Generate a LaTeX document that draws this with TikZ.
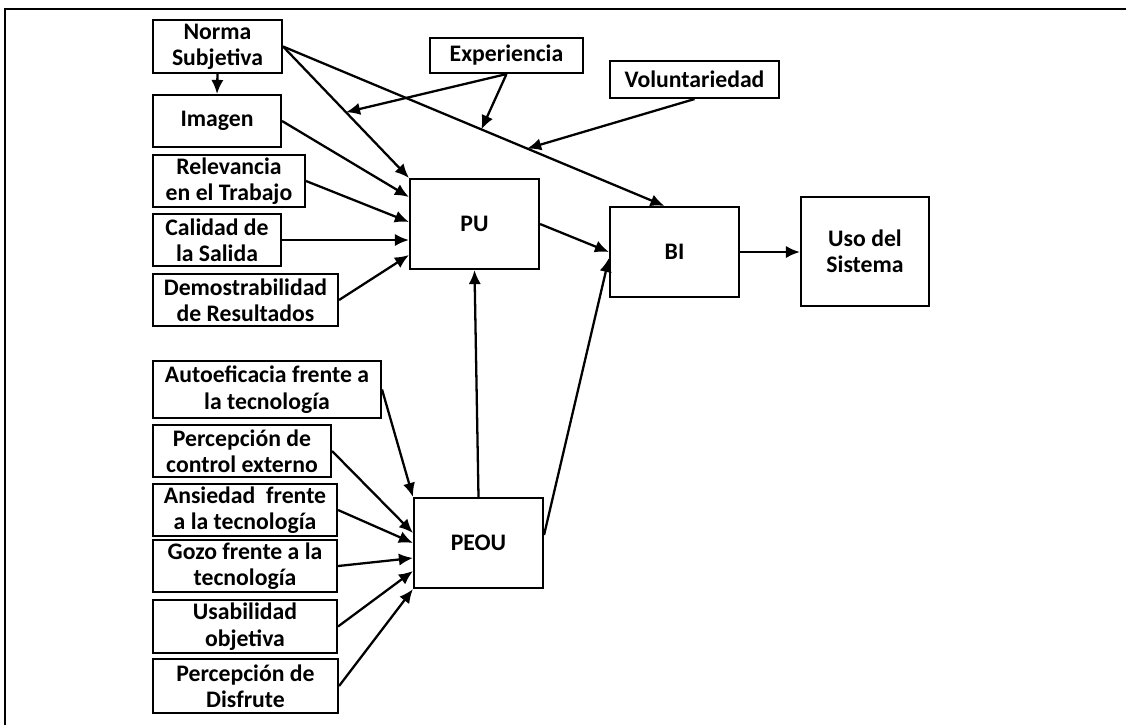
\documentclass[tikz,border=0pt]{standalone}
\usepackage{fontspec}
\setmainfont{Carlito}
\usepackage{tikz}
\usetikzlibrary{arrows.meta}

\begin{document}
\begin{tikzpicture}[x=0.02cm, y=-0.02cm]
    % Define the style for the nodes
    \tikzstyle{block} = [rectangle, draw, line width=1.2pt, align=center, inner sep=1pt, font=\fontsize{13.5}{15}\selectfont\bfseries]
    \tikzstyle{line} = [draw, -{Latex[length=8pt,width=7pt]}, line width=1.3pt]

    \useasboundingbox (0,0) rectangle (1126,725);
    \draw [line width=1.2pt] (5,725) -- (5,9) -- (1126,9);

    % Place the nodes
    \node [block, minimum width=2.58cm, minimum height=1.06cm] (norma) at (217.5,46.5) {Norma\\Subjetiva};
    \node [block, minimum width=2.56cm, minimum height=1.04cm] (imagen) at (217,121) {Imagen};
    \node [block, minimum width=3.04cm, minimum height=1.04cm] (relevancia) at (229,181) {Relevancia\\en el Trabajo};
    \node [block, minimum width=2.56cm, minimum height=1.04cm] (calidad) at (217,240) {Calidad de\\la Salida};
    \node [block, minimum width=3.70cm, minimum height=1.04cm] (demos) at (245.5,300) {Demostrabilidad\\de Resultados};
    \node [block, minimum width=3.06cm, minimum height=0.70cm] (exper) at (506.5,55.5) {Experiencia};
    \node [block, minimum width=3.38cm, minimum height=0.74cm] (volunt) at (694.5,79.5) {Voluntariedad};
    \node [block, minimum width=2.58cm, minimum height=1.80cm] (pu) at (474.5,224) {PU};
    \node [block, minimum width=2.58cm, minimum height=1.80cm] (bi) at (674.5,252) {BI};
    \node [block, minimum width=2.56cm, minimum height=2.18cm] (uso) at (865,251.5) {Uso del\\Sistema};
    \node [block, minimum width=4.56cm, minimum height=1.14cm] (autoef) at (267,389.5) {Autoeficacia frente a\\la tecnología};
    \node [block, minimum width=3.56cm, minimum height=1.04cm] (percont) at (242,451) {Percepción de\\control externo};
    \node [block, minimum width=3.68cm, minimum height=1.04cm] (ansiedad) at (245,510) {Ansiedad\ \ frente\\a la tecnología};
    \node [block, minimum width=3.68cm, minimum height=1.04cm] (gozo) at (245,566) {Gozo frente a la\\tecnología};
    \node [block, minimum width=3.68cm, minimum height=1.06cm] (usab) at (245,626.5) {Usabilidad\\objetiva};
    \node [block, minimum width=3.70cm, minimum height=1.08cm] (disfrute) at (245.5,686) {Percepción de\\Disfrute};
    \node [block, minimum width=2.58cm, minimum height=1.80cm] (peou) at (478.5,543) {PEOU};

    % Connect the nodes with paths
    \path [line] (norma.south) -- (imagen.north);
    \path [line] (norma.east) -- coordinate[pos=0.5] (mod1) (pu.north west);
    \path [line] (norma.east) -- coordinate[pos=0.52] (mod2) coordinate[pos=0.64] (mod3) ([xshift=-0.2cm]bi.north);
    \path [line] (exper.south) -- (mod1);
    \path [line] (exper.south) -- (mod2);
    \path [line] (volunt.south) -- (mod3);
    \path [line] (imagen.east) -- ([yshift=0.54cm]pu.west);
    \path [line] (relevancia.east) -- ([yshift=0.04cm]pu.west);
    \path [line] (calidad.east) -- (calidad.east -| pu.west);
    \path [line] (demos.east) -- ([yshift=-0.62cm]pu.west);
    \path [line] (pu.east) -- (bi.west);
    \path [line] (bi.east) -- (bi.east -| uso.west);
    \path [line] (peou.north) -- (pu.south);
    \path [line] ([yshift=0.16cm]peou.east) -- ([yshift=-0.12cm]bi.west);
    \path [line] (autoef.east) -- (peou.north west);
    \path [line] (percont.east) -- ([yshift=0.2cm]peou.west);
    \path [line] (ansiedad.east) -- (peou.west);
    \path [line] (gozo.east) -- ([yshift=-0.3cm]peou.west);
    \path [line] (usab.east) -- ([yshift=-0.56cm]peou.west);
    \path [line] (disfrute.east) -- (peou.south west);
\end{tikzpicture}
\end{document}
